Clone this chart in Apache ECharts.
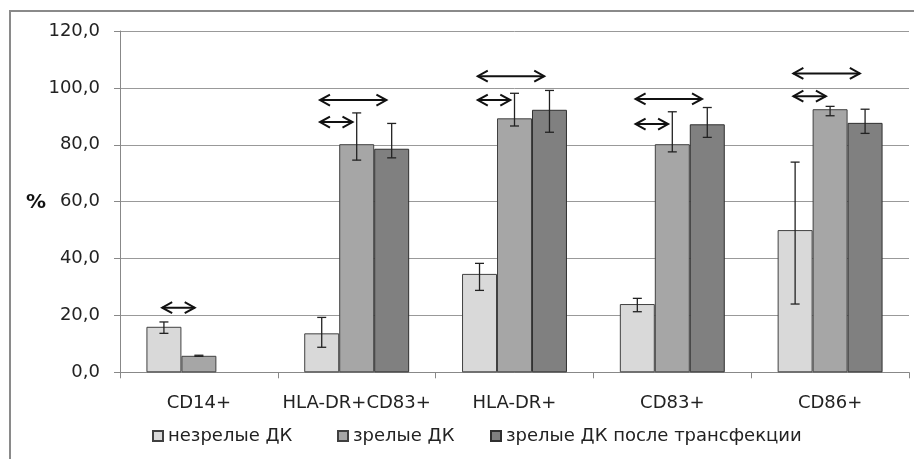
<!DOCTYPE html>
<html>
<head>
<meta charset="utf-8">
<script src="https://cdn.jsdelivr.net/npm/echarts@6/dist/echarts.min.js"></script>
<style>html,body{margin:0;padding:0;background:#fff;}#c{width:914px;height:459px;}</style>
</head>
<body>
<div id="c"></div>
<script>
const categories = ['CD14+', 'HLA-DR+CD83+', 'HLA-DR+', 'CD83+', 'CD86+'];
const seriesNames = ['незрелые ДК', 'зрелые ДК', 'зрелые ДК после трансфекции'];
const immature = [16.0, 13.7, 34.6, 24.0, 50.0];
const mature = [5.8, 80.2, 89.3, 80.2, 92.5];
const transfected = [null, 78.6, 92.3, 87.2, 87.7];
// error bars: [low, high]
const immatureErr = [[13.7, 17.7], [8.8, 19.3], [28.8, 38.3], [21.3, 26.0], [24.0, 73.9]];
const matureErr = [[5.6, 6.0], [74.6, 91.2], [86.6, 98.1], [77.5, 91.6], [90.2, 93.5]];
const transfectedErr = [null, [75.4, 87.5], [84.4, 99.1], [82.6, 93.1], [84.0, 92.5]];
// significance arrows: [category index, y value, target bar (1 = зрелые, 2 = после трансфекции)]
const arrows = [
  [0, 22.7, 1],
  [1, 95.7, 2], [1, 88.0, 1],
  [2, 104.1, 2], [2, 95.7, 1],
  [3, 96.1, 2], [3, 87.3, 1],
  [4, 105.1, 2], [4, 97.1, 1]
];
const yTicks = [0, 20, 40, 60, 80, 100, 120];

const GAP = 0.335;
const colors = ['#d9d9d9', '#a6a6a6', '#808080'];
const FONT = 'DejaVu Sans';

function errData(arr, pos) {
  const out = [];
  arr.forEach((e, i) => { if (e) out.push([i, e[0], e[1], pos]); });
  return out;
}
function errRender(params, api) {
  const c = api.value(0), lo = api.value(1), hi = api.value(2), pos = api.value(3);
  const band = api.size([1, 0])[0];
  const bw = band * (1 - GAP) / 3;
  const pLo = api.coord([c, lo]);
  const pHi = api.coord([c, hi]);
  const x = pLo[0] + pos * bw;
  const st = { stroke: '#222', lineWidth: 1.3 };
  return { type: 'group', children: [
    { type: 'line', shape: { x1: x, y1: pHi[1], x2: x, y2: pLo[1] }, style: st },
    { type: 'line', shape: { x1: x - 4.5, y1: pHi[1], x2: x + 4.5, y2: pHi[1] }, style: st },
    { type: 'line', shape: { x1: x - 4.5, y1: pLo[1], x2: x + 4.5, y2: pLo[1] }, style: st }
  ]};
}
function arrowRender(params, api) {
  const c = api.value(0), y = api.value(1), t = api.value(2);
  const band = api.size([1, 0])[0];
  const bw = band * (1 - GAP) / 3;
  const p = api.coord([c, y]);
  const x1 = p[0] - bw * 1.05;
  const x2 = p[0] + (t - 1) * bw - bw * (t === 2 ? 0.15 : 0.12);
  const yy = p[1];
  const hw = 10, hh = 5.5;
  const st = { stroke: '#111', lineWidth: 2, fill: null };
  return { type: 'group', children: [
    { type: 'line', shape: { x1: x1, y1: yy, x2: x2, y2: yy }, style: st },
    { type: 'polyline', shape: { points: [[x1 + hw, yy - hh], [x1, yy], [x1 + hw, yy + hh]] }, style: st },
    { type: 'polyline', shape: { points: [[x2 - hw, yy - hh], [x2, yy], [x2 - hw, yy + hh]] }, style: st }
  ]};
}

const chart = echarts.init(document.getElementById('c'), null, { renderer: 'canvas' });
const legendBase = {
  top: 422, itemWidth: 10, itemHeight: 10, icon: 'rect',
  textStyle: { fontFamily: FONT, fontSize: 18, color: '#222', padding: [0, 0, 0, 0] }
};
chart.setOption({
  animation: false,
  backgroundColor: '#fff',
  textStyle: { fontFamily: FONT },
  graphic: [
    { type: 'rect', shape: { x: 10, y: 11, width: 1000, height: 1000 }, style: { fill: null, stroke: '#8a8a8a', lineWidth: 2 }, z: -1 },
    { type: 'text', left: 26, top: 193, style: { text: '%', font: 'bold 20px "DejaVu Sans"', fill: '#111' } }
  ],
  grid: { left: 120, right: 5, top: 31, bottom: 86.7, containLabel: false },
  legend: [
    Object.assign({ left: 147, data: [seriesNames[0]] }, legendBase),
    Object.assign({ left: 332, data: [seriesNames[1]] }, legendBase),
    Object.assign({ left: 485, data: [seriesNames[2]] }, legendBase)
  ],
  xAxis: {
    type: 'category', data: categories,
    axisLine: { show: true, lineStyle: { color: '#888', width: 1 } },
    axisTick: { show: true, length: 6, interval: 0, lineStyle: { color: '#888' } },
    axisLabel: { fontFamily: FONT, fontSize: 18, color: '#222', margin: 22, interval: 0 }
  },
  yAxis: {
    type: 'value', min: 0, max: 120, interval: 20,
    axisLine: { show: true, lineStyle: { color: '#888', width: 1 } },
    axisTick: { show: true, length: 6, lineStyle: { color: '#888' } },
    splitLine: { show: true, lineStyle: { color: '#999', width: 1 } },
    axisLabel: {
      fontFamily: FONT, fontSize: 18, color: '#222', margin: 20,
      customValues: yTicks,
      formatter: v => v.toFixed(1).replace('.', ',')
    }
  },
  series: [
    { name: seriesNames[0], type: 'bar', data: immature, barGap: '0%', barCategoryGap: (GAP * 100) + '%',
      itemStyle: { color: colors[0], borderColor: '#404040', borderWidth: 1 } },
    { name: seriesNames[1], type: 'bar', data: mature, barGap: '0%', barCategoryGap: (GAP * 100) + '%',
      itemStyle: { color: colors[1], borderColor: '#404040', borderWidth: 1 } },
    { name: seriesNames[2], type: 'bar', data: transfected, barGap: '0%', barCategoryGap: (GAP * 100) + '%',
      itemStyle: { color: colors[2], borderColor: '#303030', borderWidth: 1 } },
    { type: 'custom', renderItem: errRender, data: errData(immatureErr, -1), encode: { x: 0, y: [1, 2] }, z: 5 },
    { type: 'custom', renderItem: errRender, data: errData(matureErr, 0), encode: { x: 0, y: [1, 2] }, z: 5 },
    { type: 'custom', renderItem: errRender, data: errData(transfectedErr, 1), encode: { x: 0, y: [1, 2] }, z: 5 },
    { type: 'custom', renderItem: arrowRender, data: arrows, encode: { x: 0, y: 1 }, z: 6 }
  ]
});
</script>
</body>
</html>
